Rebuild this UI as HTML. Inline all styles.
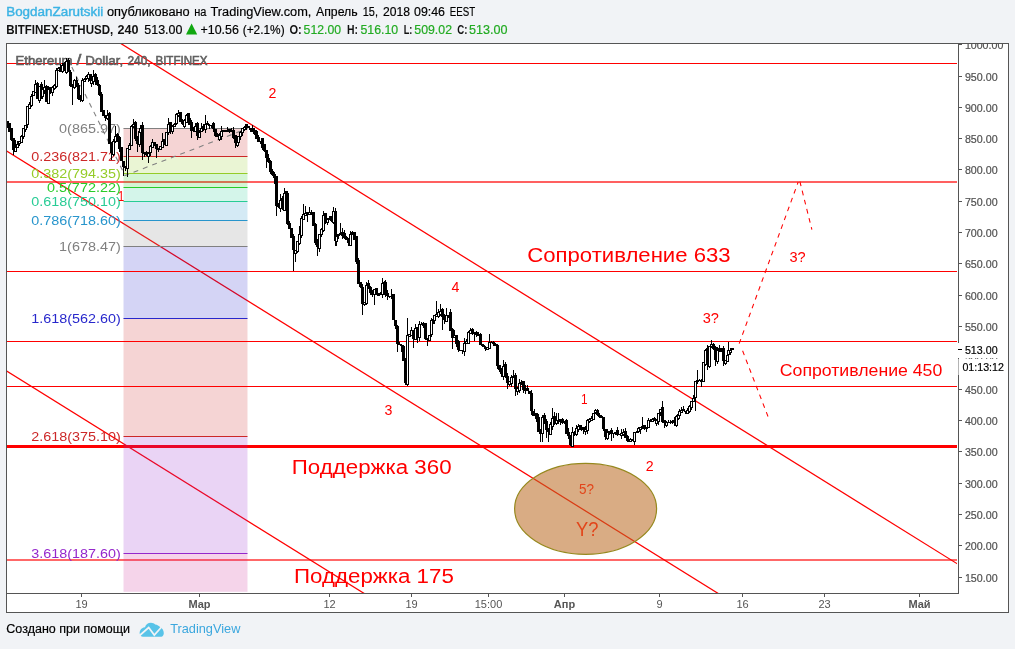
<!DOCTYPE html>
<html><head><meta charset="utf-8"><title>ETHUSD chart</title>
<style>
html,body{margin:0;padding:0;background:#f1f3f6;}
body{width:1015px;height:649px;overflow:hidden;font-family:"Liberation Sans",sans-serif;}
svg{display:block;position:absolute;left:0;top:0;will-change:transform}
text{font-family:"Liberation Sans",sans-serif;}
</style></head><body>
<svg width="1015" height="649" viewBox="0 0 1015 649">
<defs><clipPath id="plot"><rect x="7" y="44" width="950" height="549"/></clipPath><clipPath id="axis"><rect x="959" y="44" width="49" height="549"/></clipPath><clipPath id="sliver"><rect x="959" y="358" width="49" height="1.3"/></clipPath></defs>
<rect x="0" y="0" width="1015" height="649" fill="#f1f3f6"/>
<text x="6.2" y="15.5" font-size="12.5" fill="#3bb3e4" textLength="97" lengthAdjust="spacingAndGlyphs" stroke="#3bb3e4" stroke-width="0.4">BogdanZarutskii</text>
<text x="106.9" y="15.5" font-size="12.5" fill="#000" textLength="82.8" lengthAdjust="spacingAndGlyphs" stroke="#000" stroke-width="0.18">опубликовано</text>
<text x="194.2" y="15.5" font-size="12.5" fill="#000" textLength="12.2" lengthAdjust="spacingAndGlyphs" stroke="#000" stroke-width="0.18">на</text>
<text x="210.5" y="15.5" font-size="12.5" fill="#000" textLength="100.9" lengthAdjust="spacingAndGlyphs" stroke="#000" stroke-width="0.18">TradingView.com,</text>
<text x="316" y="15.5" font-size="12.5" fill="#000" textLength="41.6" lengthAdjust="spacingAndGlyphs" stroke="#000" stroke-width="0.18">Апрель</text>
<text x="362.8" y="15.5" font-size="12.5" fill="#000" textLength="15.2" lengthAdjust="spacingAndGlyphs" stroke="#000" stroke-width="0.18">15,</text>
<text x="383" y="15.5" font-size="12.5" fill="#000" textLength="27" lengthAdjust="spacingAndGlyphs" stroke="#000" stroke-width="0.18">2018</text>
<text x="414" y="15.5" font-size="12.5" fill="#000" textLength="31" lengthAdjust="spacingAndGlyphs" stroke="#000" stroke-width="0.18">09:46</text>
<text x="449.8" y="15.5" font-size="12.5" fill="#000" textLength="25.4" lengthAdjust="spacingAndGlyphs" stroke="#000" stroke-width="0.18">EEST</text>
<text x="6.2" y="34" font-size="12.5" fill="#111" font-weight="bold" textLength="107" lengthAdjust="spacingAndGlyphs">BITFINEX:ETHUSD,</text>
<text x="117.5" y="34" font-size="12.5" fill="#111" font-weight="bold" textLength="21" lengthAdjust="spacingAndGlyphs">240</text>
<text x="144.3" y="34" font-size="12.5" fill="#000" textLength="38.1" lengthAdjust="spacingAndGlyphs" stroke="#000" stroke-width="0.18">513.00</text>
<path d="M186 34.5 L197.2 34.5 L191.6 23.6 Z" fill="#11a811"/>
<text x="200.5" y="34" font-size="12.5" fill="#000" textLength="38.4" lengthAdjust="spacingAndGlyphs" stroke="#000" stroke-width="0.18">+10.56</text>
<text x="242.7" y="34" font-size="12.5" fill="#000" textLength="41.9" lengthAdjust="spacingAndGlyphs" stroke="#000" stroke-width="0.18">(+2.1%)</text>
<text x="289.5" y="34" font-size="12.5" fill="#111" font-weight="bold" textLength="12.3" lengthAdjust="spacingAndGlyphs">O:</text>
<text x="303.6" y="34" font-size="12.5" fill="#22ab22" textLength="37.4" lengthAdjust="spacingAndGlyphs" stroke="#22ab22" stroke-width="0.18">512.00</text>
<text x="347" y="34" font-size="12.5" fill="#111" font-weight="bold" textLength="11" lengthAdjust="spacingAndGlyphs">H:</text>
<text x="360.4" y="34" font-size="12.5" fill="#22ab22" textLength="37.8" lengthAdjust="spacingAndGlyphs" stroke="#22ab22" stroke-width="0.18">516.10</text>
<text x="403.7" y="34" font-size="12.5" fill="#111" font-weight="bold" textLength="8.7" lengthAdjust="spacingAndGlyphs">L:</text>
<text x="414.3" y="34" font-size="12.5" fill="#22ab22" textLength="37.7" lengthAdjust="spacingAndGlyphs" stroke="#22ab22" stroke-width="0.18">509.02</text>
<text x="457.3" y="34" font-size="12.5" fill="#111" font-weight="bold" textLength="10.2" lengthAdjust="spacingAndGlyphs">C:</text>
<text x="469" y="34" font-size="12.5" fill="#22ab22" textLength="38.5" lengthAdjust="spacingAndGlyphs" stroke="#22ab22" stroke-width="0.18">513.00</text>
<rect x="6" y="43" width="1003" height="570" fill="#555555"/>
<rect x="7" y="44" width="1001" height="568" fill="#fff"/>
<rect x="958" y="44" width="1" height="550" fill="#555555"/>
<rect x="7" y="593" width="952" height="1" fill="#555555"/>
<g clip-path="url(#axis)">
<rect x="959" y="44" width="3" height="1" fill="#555555"/><text x="964.9" y="49" font-size="11" fill="#505050" textLength="38.4" lengthAdjust="spacingAndGlyphs" stroke="#505050" stroke-width="0.2">1000.00</text>
<rect x="959" y="76" width="3" height="1" fill="#555555"/><text x="964.9" y="81" font-size="11" fill="#505050" textLength="32.7" lengthAdjust="spacingAndGlyphs" stroke="#505050" stroke-width="0.2">950.00</text>
<rect x="959" y="107" width="3" height="1" fill="#555555"/><text x="964.9" y="112" font-size="11" fill="#505050" textLength="32.7" lengthAdjust="spacingAndGlyphs" stroke="#505050" stroke-width="0.2">900.00</text>
<rect x="959" y="138" width="3" height="1" fill="#555555"/><text x="964.9" y="143" font-size="11" fill="#505050" textLength="32.7" lengthAdjust="spacingAndGlyphs" stroke="#505050" stroke-width="0.2">850.00</text>
<rect x="959" y="169" width="3" height="1" fill="#555555"/><text x="964.9" y="174" font-size="11" fill="#505050" textLength="32.7" lengthAdjust="spacingAndGlyphs" stroke="#505050" stroke-width="0.2">800.00</text>
<rect x="959" y="201" width="3" height="1" fill="#555555"/><text x="964.9" y="206" font-size="11" fill="#505050" textLength="32.7" lengthAdjust="spacingAndGlyphs" stroke="#505050" stroke-width="0.2">750.00</text>
<rect x="959" y="232" width="3" height="1" fill="#555555"/><text x="964.9" y="237" font-size="11" fill="#505050" textLength="32.7" lengthAdjust="spacingAndGlyphs" stroke="#505050" stroke-width="0.2">700.00</text>
<rect x="959" y="263" width="3" height="1" fill="#555555"/><text x="964.9" y="268" font-size="11" fill="#505050" textLength="32.7" lengthAdjust="spacingAndGlyphs" stroke="#505050" stroke-width="0.2">650.00</text>
<rect x="959" y="295" width="3" height="1" fill="#555555"/><text x="964.9" y="300" font-size="11" fill="#505050" textLength="32.7" lengthAdjust="spacingAndGlyphs" stroke="#505050" stroke-width="0.2">600.00</text>
<rect x="959" y="326" width="3" height="1" fill="#555555"/><text x="964.9" y="331" font-size="11" fill="#505050" textLength="32.7" lengthAdjust="spacingAndGlyphs" stroke="#505050" stroke-width="0.2">550.00</text>
<rect x="959" y="389" width="3" height="1" fill="#555555"/><text x="964.9" y="394" font-size="11" fill="#505050" textLength="32.7" lengthAdjust="spacingAndGlyphs" stroke="#505050" stroke-width="0.2">450.00</text>
<rect x="959" y="420" width="3" height="1" fill="#555555"/><text x="964.9" y="425" font-size="11" fill="#505050" textLength="32.7" lengthAdjust="spacingAndGlyphs" stroke="#505050" stroke-width="0.2">400.00</text>
<rect x="959" y="451" width="3" height="1" fill="#555555"/><text x="964.9" y="456" font-size="11" fill="#505050" textLength="32.7" lengthAdjust="spacingAndGlyphs" stroke="#505050" stroke-width="0.2">350.00</text>
<rect x="959" y="483" width="3" height="1" fill="#555555"/><text x="964.9" y="488" font-size="11" fill="#505050" textLength="32.7" lengthAdjust="spacingAndGlyphs" stroke="#505050" stroke-width="0.2">300.00</text>
<rect x="959" y="514" width="3" height="1" fill="#555555"/><text x="964.9" y="519" font-size="11" fill="#505050" textLength="32.7" lengthAdjust="spacingAndGlyphs" stroke="#505050" stroke-width="0.2">250.00</text>
<rect x="959" y="545" width="3" height="1" fill="#555555"/><text x="964.9" y="550" font-size="11" fill="#505050" textLength="32.7" lengthAdjust="spacingAndGlyphs" stroke="#505050" stroke-width="0.2">200.00</text>
<rect x="959" y="577" width="3" height="1" fill="#555555"/><text x="964.9" y="582" font-size="11" fill="#505050" textLength="32.7" lengthAdjust="spacingAndGlyphs" stroke="#505050" stroke-width="0.2">150.00</text>
</g>
<g clip-path="url(#sliver)"><text x="964.9" y="362" font-size="11" fill="#555" textLength="32.7" lengthAdjust="spacingAndGlyphs">500.00</text>
</g>
<rect x="958" y="343" width="50" height="15" fill="#fff"/>
<rect x="958" y="349" width="4" height="1" fill="#000"/>
<text x="964.9" y="354" font-size="11" fill="#000" textLength="32.7" lengthAdjust="spacingAndGlyphs" stroke="#000" stroke-width="0.18">513.00</text>
<rect x="958" y="359" width="50" height="16" fill="#fff"/>
<rect x="958" y="359" width="1" height="16" fill="#b4b4b4"/>
<text x="962.4" y="371" font-size="11" fill="#000" textLength="41.5" lengthAdjust="spacingAndGlyphs" stroke="#000" stroke-width="0.18">01:13:12</text>
<rect x="81" y="594" width="1" height="3" fill="#555555"/><text x="81.5" y="608" font-size="11" fill="#555" text-anchor="middle">19</text>
<rect x="199" y="594" width="1" height="3" fill="#555555"/><text x="199.5" y="608" font-size="11" fill="#555" font-weight="bold" text-anchor="middle">Мар</text>
<rect x="329" y="594" width="1" height="3" fill="#555555"/><text x="329.5" y="608" font-size="11" fill="#555" text-anchor="middle">12</text>
<rect x="411" y="594" width="1" height="3" fill="#555555"/><text x="411.5" y="608" font-size="11" fill="#555" text-anchor="middle">19</text>
<rect x="488" y="594" width="1" height="3" fill="#555555"/><text x="488.5" y="608" font-size="11" fill="#555" text-anchor="middle">15:00</text>
<rect x="564" y="594" width="1" height="3" fill="#555555"/><text x="564.5" y="608" font-size="11" fill="#555" font-weight="bold" text-anchor="middle">Апр</text>
<rect x="659" y="594" width="1" height="3" fill="#555555"/><text x="659.5" y="608" font-size="11" fill="#555" text-anchor="middle">9</text>
<rect x="742" y="594" width="1" height="3" fill="#555555"/><text x="742.5" y="608" font-size="11" fill="#555" text-anchor="middle">16</text>
<rect x="824" y="594" width="1" height="3" fill="#555555"/><text x="824.5" y="608" font-size="11" fill="#555" text-anchor="middle">23</text>
<rect x="919" y="594" width="1" height="3" fill="#555555"/><text x="919.5" y="608" font-size="11" fill="#555" font-weight="bold" text-anchor="middle">Май</text>
<g clip-path="url(#plot)">
<rect x="7" y="181" width="950" height="2" fill="#ff6060"/>
<rect x="7" y="559" width="950" height="2" fill="#ff6060" opacity="0.95"/>
<line x1="120.0" y1="43.0" x2="960.0" y2="565.5" stroke="#ff0000" stroke-width="1.25"/>
<line x1="5.0" y1="149.9" x2="720.0" y2="594.6" stroke="#ff0000" stroke-width="1.25"/>
<line x1="5.0" y1="370.1" x2="366.0" y2="594.6" stroke="#ff0000" stroke-width="1.25"/>
<rect x="7" y="445" width="950" height="3" fill="#ff0000"/>
<rect x="123.5" y="128.0" width="124.0" height="28.0" fill="#cc2828" fill-opacity="0.2"/>
<rect x="123.5" y="156.0" width="124.0" height="17.0" fill="#95cc28" fill-opacity="0.2"/>
<rect x="123.5" y="173.0" width="124.0" height="14.0" fill="#28cc28" fill-opacity="0.2"/>
<rect x="123.5" y="187.0" width="124.0" height="14.0" fill="#28cc95" fill-opacity="0.2"/>
<rect x="123.5" y="201.0" width="124.0" height="19.0" fill="#2895cc" fill-opacity="0.2"/>
<rect x="123.5" y="220.0" width="124.0" height="26.0" fill="#808080" fill-opacity="0.2"/>
<rect x="123.5" y="246.0" width="124.0" height="72.0" fill="#2828cc" fill-opacity="0.2"/>
<rect x="123.5" y="318.0" width="124.0" height="118.0" fill="#cc2828" fill-opacity="0.2"/>
<rect x="123.5" y="436.0" width="124.0" height="117.0" fill="#9528cc" fill-opacity="0.2"/>
<rect x="123.5" y="553.0" width="124.0" height="38.8" fill="#cc2895" fill-opacity="0.2"/>
<rect x="123.5" y="128" width="124.0" height="1" fill="#808080"/><text x="120.8" y="132.7" font-size="12" fill="#808080" textLength="61.7" lengthAdjust="spacingAndGlyphs" text-anchor="end">0(865.97)</text>

<rect x="123.5" y="156" width="124.0" height="1" fill="#cc2828"/><text x="120.8" y="160.7" font-size="12" fill="#cc2828" textLength="89.5" lengthAdjust="spacingAndGlyphs" text-anchor="end">0.236(821.72)</text>

<rect x="123.5" y="173" width="124.0" height="1" fill="#95cc28"/><text x="120.8" y="177.7" font-size="12" fill="#95cc28" textLength="89.5" lengthAdjust="spacingAndGlyphs" text-anchor="end">0.382(794.35)</text>

<rect x="123.5" y="187" width="124.0" height="1" fill="#28cc28"/><text x="120.8" y="191.7" font-size="12" fill="#28cc28" textLength="73.8" lengthAdjust="spacingAndGlyphs" text-anchor="end">0.5(772.22)</text>

<rect x="123.5" y="201" width="124.0" height="1" fill="#28cc95"/><text x="120.8" y="205.7" font-size="12" fill="#28cc95" textLength="89.5" lengthAdjust="spacingAndGlyphs" text-anchor="end">0.618(750.10)</text>

<rect x="123.5" y="220" width="124.0" height="1" fill="#2895cc"/><text x="120.8" y="224.7" font-size="12" fill="#2895cc" textLength="89.5" lengthAdjust="spacingAndGlyphs" text-anchor="end">0.786(718.60)</text>

<rect x="123.5" y="246" width="124.0" height="1" fill="#808080"/><text x="120.8" y="250.7" font-size="12" fill="#808080" textLength="61.7" lengthAdjust="spacingAndGlyphs" text-anchor="end">1(678.47)</text>

<rect x="123.5" y="318" width="124.0" height="1" fill="#2828cc"/><text x="120.8" y="322.7" font-size="12" fill="#2828cc" textLength="89.5" lengthAdjust="spacingAndGlyphs" text-anchor="end">1.618(562.60)</text>

<rect x="123.5" y="436" width="124.0" height="1" fill="#cc2828"/><text x="120.8" y="440.7" font-size="12" fill="#cc2828" textLength="89.5" lengthAdjust="spacingAndGlyphs" text-anchor="end">2.618(375.10)</text>

<rect x="123.5" y="553" width="124.0" height="1" fill="#9528cc"/><text x="120.8" y="557.7" font-size="12" fill="#9528cc" textLength="89.5" lengthAdjust="spacingAndGlyphs" text-anchor="end">3.618(187.60)</text>

<text x="118.0" y="200.8" font-size="14" fill="#ff0000" textLength="6.2" lengthAdjust="spacingAndGlyphs">1</text>
<rect x="7" y="63" width="950" height="1" fill="#ff0000"/><rect x="7" y="271" width="950" height="1" fill="#ff0000"/><rect x="7" y="341" width="950" height="1" fill="#ff0000"/><rect x="7" y="386" width="950" height="1" fill="#ff0000"/><text x="15.5" y="64.8" font-size="13" fill="#606060" textLength="57" lengthAdjust="spacingAndGlyphs" stroke="#606060" stroke-width="0.6">Ethereum</text>
<text x="76.6" y="64.8" font-size="14" fill="#606060" textLength="4.8" lengthAdjust="spacingAndGlyphs" stroke="#606060" stroke-width="0.6">/</text>
<text x="85.3" y="64.8" font-size="13" fill="#606060" textLength="37.8" lengthAdjust="spacingAndGlyphs" stroke="#606060" stroke-width="0.6">Dollar,</text>
<text x="127.4" y="64.8" font-size="13" fill="#606060" textLength="23.2" lengthAdjust="spacingAndGlyphs" stroke="#606060" stroke-width="0.6">240,</text>
<text x="155.4" y="64.8" font-size="13" fill="#606060" textLength="52.2" lengthAdjust="spacingAndGlyphs" stroke="#606060" stroke-width="0.6">BITFINEX</text>
<path d="M739.2 343.6 L798.2 182" fill="none" stroke="#ff0000" stroke-width="1.05" stroke-dasharray="4.7 4.7"/>
<path d="M799.9 181.6 L811.9 229.7" fill="none" stroke="#ff0000" stroke-width="1.05" stroke-dasharray="4.7 4.7"/>
<path d="M742.6 350.8 L768.8 418.6" fill="none" stroke="#ff0000" stroke-width="1.05" stroke-dasharray="4.7 4.7"/>
<path d="M67.4 58 L125 175.5 L247.5 128.5" fill="none" stroke="#808080" stroke-width="1.1" stroke-dasharray="5 5"/>
<ellipse cx="585.6" cy="508.85" rx="71.0" ry="45.45" fill="#bb6b24" fill-opacity="0.56" stroke="#96881e" stroke-width="1.2"/>
<text x="579" y="493.8" font-size="14" fill="#e2451a" textLength="15" lengthAdjust="spacingAndGlyphs">5?</text>
<text x="576" y="535.6" font-size="20.5" fill="#e2451a" textLength="22.4" lengthAdjust="spacingAndGlyphs">Y?</text>
<text x="268.6" y="98.1" font-size="14" fill="#ff0000" textLength="7.9" lengthAdjust="spacingAndGlyphs">2</text>
<text x="384.5" y="415.1" font-size="14" fill="#ff0000" textLength="7.9" lengthAdjust="spacingAndGlyphs">3</text>
<text x="451.6" y="292.2" font-size="14" fill="#ff0000" textLength="7.9" lengthAdjust="spacingAndGlyphs">4</text>
<text x="581.0" y="404.2" font-size="14" fill="#ff0000" textLength="6.6" lengthAdjust="spacingAndGlyphs">1</text>
<text x="645.8" y="471.2" font-size="14" fill="#ff0000" textLength="7.9" lengthAdjust="spacingAndGlyphs">2</text>
<text x="702.7" y="323.4" font-size="14" fill="#ff0000" textLength="16.2" lengthAdjust="spacingAndGlyphs">3?</text>
<text x="789.5" y="262.2" font-size="14" fill="#ff0000" textLength="16.2" lengthAdjust="spacingAndGlyphs">3?</text>
<text x="527.3" y="261.8" font-size="20" fill="#ff0000" textLength="203.3" lengthAdjust="spacingAndGlyphs">Сопротивление 633</text>
<text x="291.8" y="473.5" font-size="20" fill="#ff0000" textLength="159.8" lengthAdjust="spacingAndGlyphs">Поддержка 360</text>
<text x="294.0" y="582.5" font-size="20" fill="#ff0000" textLength="159.8" lengthAdjust="spacingAndGlyphs">Поддержка 175</text>
<text x="779.8" y="376.2" font-size="16.5" fill="#ff0000" textLength="162.5" lengthAdjust="spacingAndGlyphs">Сопротивление 450</text>
<g shape-rendering="crispEdges"><path fill="#000" d="M7 121h1V128h-1zM6 121h3V127h-3z"/><path fill="#000" d="M9 123h1V132h-1zM8 123h3V132h-3z"/><path fill="#000" d="M11 128h1V141h-1zM10 128h3V140h-3z"/><path fill="#000" d="M13 138h1V155h-1zM12 138h3V150h-3z"/><path fill="#000" d="M15 140h1V152h-1zM14 147h3V152h-3z"/><path fill="#fff" d="M15 148h1V151h-1z"/><path fill="#000" d="M17 141h1V148h-1zM16 144h3V148h-3z"/><path fill="#fff" d="M17 145h1V147h-1z"/><path fill="#000" d="M19 141h1V146h-1zM18 141h3V144h-3z"/><path fill="#fff" d="M19 142h1V143h-1z"/><path fill="#000" d="M21 135h1V143h-1zM20 136h3V143h-3z"/><path fill="#fff" d="M21 137h1V142h-1z"/><path fill="#000" d="M23 128h1V139h-1zM22 128h3V137h-3z"/><path fill="#fff" d="M23 129h1V136h-1z"/><path fill="#000" d="M25 125h1V132h-1zM24 125h3V130h-3z"/><path fill="#fff" d="M25 126h1V129h-1z"/><path fill="#000" d="M27 106h1V128h-1zM26 106h3V125h-3z"/><path fill="#fff" d="M27 107h1V124h-1z"/><path fill="#000" d="M29 102h1V109h-1zM28 104h3V109h-3z"/><path fill="#fff" d="M29 105h1V108h-1z"/><path fill="#000" d="M31 94h1V107h-1zM30 96h3V106h-3z"/><path fill="#fff" d="M31 97h1V105h-1z"/><path fill="#000" d="M33 91h1V96h-1zM32 91h3V96h-3z"/><path fill="#fff" d="M33 92h1V95h-1z"/><path fill="#000" d="M35 80h1V93h-1zM34 84h3V93h-3z"/><path fill="#fff" d="M35 85h1V92h-1z"/><path fill="#000" d="M37 82h1V99h-1zM36 83h3V99h-3z"/><path fill="#000" d="M39 86h1V103h-1zM38 86h3V101h-3z"/><path fill="#fff" d="M39 87h1V100h-1z"/><path fill="#000" d="M41 82h1V99h-1zM40 84h3V96h-3z"/><path fill="#000" d="M42 89h1V99h-1zM41 89h3V97h-3z"/><path fill="#fff" d="M42 90h1V96h-1z"/><path fill="#000" d="M44 80h1V94h-1zM43 87h3V91h-3z"/><path fill="#fff" d="M44 88h1V90h-1z"/><path fill="#000" d="M46 85h1V102h-1zM45 86h3V102h-3z"/><path fill="#000" d="M48 86h1V104h-1zM47 89h3V104h-3z"/><path fill="#fff" d="M48 90h1V103h-1z"/><path fill="#000" d="M50 87h1V94h-1zM49 87h3V92h-3z"/><path fill="#000" d="M52 86h1V96h-1zM51 87h3V93h-3z"/><path fill="#fff" d="M52 88h1V92h-1z"/><path fill="#000" d="M54 84h1V90h-1zM53 85h3V89h-3z"/><path fill="#fff" d="M54 86h1V88h-1z"/><path fill="#000" d="M56 68h1V88h-1zM55 70h3V87h-3z"/><path fill="#fff" d="M56 71h1V86h-1z"/><path fill="#000" d="M58 67h1V71h-1zM57 68h3V71h-3z"/><path fill="#fff" d="M58 69h1V70h-1z"/><path fill="#000" d="M60 64h1V72h-1zM59 67h3V72h-3z"/><path fill="#000" d="M62 63h1V73h-1zM61 65h3V72h-3z"/><path fill="#fff" d="M62 66h1V71h-1z"/><path fill="#000" d="M64 62h1V71h-1zM63 63h3V70h-3z"/><path fill="#000" d="M66 58h1V74h-1zM65 61h3V73h-3z"/><path fill="#fff" d="M66 62h1V72h-1z"/><path fill="#000" d="M68 58h1V72h-1zM67 60h3V72h-3z"/><path fill="#000" d="M70 70h1V87h-1zM69 72h3V86h-3z"/><path fill="#000" d="M72 84h1V105h-1zM71 85h3V87h-3z"/><path fill="#000" d="M74 79h1V89h-1zM73 80h3V88h-3z"/><path fill="#fff" d="M74 81h1V87h-1z"/><path fill="#000" d="M76 77h1V87h-1zM75 80h3V87h-3z"/><path fill="#000" d="M78 83h1V100h-1zM77 85h3V99h-3z"/><path fill="#000" d="M80 95h1V102h-1zM79 98h3V100h-3z"/><path fill="#000" d="M82 78h1V102h-1zM81 80h3V101h-3z"/><path fill="#fff" d="M82 81h1V100h-1z"/><path fill="#000" d="M84 78h1V82h-1zM83 79h3V82h-3z"/><path fill="#fff" d="M84 80h1V81h-1z"/><path fill="#000" d="M86 75h1V80h-1zM85 76h3V79h-3z"/><path fill="#fff" d="M86 77h1V78h-1z"/><path fill="#000" d="M88 72h1V82h-1zM87 74h3V79h-3z"/><path fill="#fff" d="M88 75h1V78h-1z"/><path fill="#000" d="M90 74h1V84h-1zM89 74h3V81h-3z"/><path fill="#000" d="M91 79h1V87h-1zM90 80h3V84h-3z"/><path fill="#fff" d="M91 81h1V83h-1z"/><path fill="#000" d="M93 70h1V85h-1zM92 76h3V82h-3z"/><path fill="#fff" d="M93 77h1V81h-1z"/><path fill="#000" d="M95 73h1V85h-1zM94 74h3V82h-3z"/><path fill="#000" d="M97 77h1V86h-1zM96 80h3V85h-3z"/><path fill="#000" d="M99 84h1V96h-1zM98 85h3V95h-3z"/><path fill="#000" d="M101 92h1V112h-1zM100 94h3V112h-3z"/><path fill="#000" d="M103 110h1V116h-1zM102 110h3V116h-3z"/><path fill="#000" d="M105 115h1V121h-1zM104 115h3V118h-3z"/><path fill="#000" d="M107 110h1V120h-1zM106 115h3V119h-3z"/><path fill="#fff" d="M107 116h1V118h-1z"/><path fill="#000" d="M109 112h1V144h-1zM108 113h3V144h-3z"/><path fill="#000" d="M111 142h1V160h-1zM110 143h3V153h-3z"/><path fill="#000" d="M113 139h1V156h-1zM112 141h3V155h-3z"/><path fill="#fff" d="M113 142h1V154h-1z"/><path fill="#000" d="M115 126h1V143h-1zM114 136h3V142h-3z"/><path fill="#fff" d="M115 137h1V141h-1z"/><path fill="#000" d="M117 133h1V142h-1zM116 134h3V139h-3z"/><path fill="#000" d="M119 136h1V152h-1zM118 137h3V149h-3z"/><path fill="#000" d="M121 147h1V161h-1zM120 147h3V161h-3z"/><path fill="#000" d="M123 161h1V176h-1zM122 161h3V167h-3z"/><path fill="#000" d="M125 166h1V171h-1zM124 166h3V168h-3z"/><path fill="#000" d="M127 148h1V177h-1zM126 148h3V169h-3z"/><path fill="#fff" d="M127 149h1V168h-1z"/><path fill="#000" d="M129 143h1V150h-1zM128 145h3V150h-3z"/><path fill="#fff" d="M129 146h1V149h-1z"/><path fill="#000" d="M131 125h1V146h-1zM130 126h3V146h-3z"/><path fill="#fff" d="M131 127h1V145h-1z"/><path fill="#000" d="M133 119h1V128h-1zM132 124h3V127h-3z"/><path fill="#fff" d="M133 125h1V126h-1z"/><path fill="#000" d="M135 121h1V141h-1zM134 122h3V139h-3z"/><path fill="#000" d="M137 136h1V152h-1zM136 137h3V144h-3z"/><path fill="#000" d="M139 128h1V147h-1zM138 131h3V145h-3z"/><path fill="#fff" d="M139 132h1V144h-1z"/><path fill="#000" d="M140 125h1V136h-1zM139 128h3V133h-3z"/><path fill="#fff" d="M140 129h1V132h-1z"/><path fill="#000" d="M142 122h1V160h-1zM141 125h3V153h-3z"/><path fill="#000" d="M144 152h1V157h-1zM143 153h3V154h-3z"/><path fill="#000" d="M146 151h1V156h-1zM145 152h3V155h-3z"/><path fill="#000" d="M148 152h1V163h-1zM147 153h3V157h-3z"/><path fill="#fff" d="M148 154h1V156h-1z"/><path fill="#000" d="M150 145h1V156h-1zM149 146h3V153h-3z"/><path fill="#fff" d="M150 147h1V152h-1z"/><path fill="#000" d="M152 139h1V148h-1zM151 142h3V148h-3z"/><path fill="#fff" d="M152 143h1V147h-1z"/><path fill="#000" d="M154 142h1V146h-1zM153 142h3V146h-3z"/><path fill="#000" d="M156 144h1V158h-1zM155 144h3V149h-3z"/><path fill="#000" d="M158 148h1V152h-1zM157 149h3V150h-3z"/><path fill="#000" d="M160 146h1V150h-1zM159 146h3V150h-3z"/><path fill="#fff" d="M160 147h1V149h-1z"/><path fill="#000" d="M162 133h1V148h-1zM161 141h3V148h-3z"/><path fill="#fff" d="M162 142h1V147h-1z"/><path fill="#000" d="M164 139h1V145h-1zM163 139h3V144h-3z"/><path fill="#000" d="M166 132h1V146h-1zM165 132h3V146h-3z"/><path fill="#fff" d="M166 133h1V145h-1z"/><path fill="#000" d="M168 118h1V135h-1zM167 124h3V133h-3z"/><path fill="#fff" d="M168 125h1V132h-1z"/><path fill="#000" d="M170 122h1V134h-1zM169 122h3V131h-3z"/><path fill="#000" d="M172 125h1V134h-1zM171 126h3V132h-3z"/><path fill="#fff" d="M172 127h1V131h-1z"/><path fill="#000" d="M174 123h1V127h-1zM173 124h3V127h-3z"/><path fill="#fff" d="M174 125h1V126h-1z"/><path fill="#000" d="M176 113h1V125h-1zM175 114h3V124h-3z"/><path fill="#fff" d="M176 115h1V123h-1z"/><path fill="#000" d="M178 110h1V117h-1zM177 113h3V116h-3z"/><path fill="#fff" d="M178 114h1V115h-1z"/><path fill="#000" d="M180 112h1V122h-1zM179 112h3V122h-3z"/><path fill="#000" d="M182 119h1V125h-1zM181 122h3V124h-3z"/><path fill="#000" d="M184 119h1V128h-1zM183 120h3V127h-3z"/><path fill="#fff" d="M184 121h1V126h-1z"/><path fill="#000" d="M186 114h1V123h-1zM185 115h3V123h-3z"/><path fill="#fff" d="M186 116h1V122h-1z"/><path fill="#000" d="M188 113h1V120h-1zM187 113h3V120h-3z"/><path fill="#000" d="M189 117h1V125h-1zM188 118h3V125h-3z"/><path fill="#000" d="M191 120h1V138h-1zM190 122h3V131h-3z"/><path fill="#000" d="M193 127h1V132h-1zM192 129h3V131h-3z"/><path fill="#000" d="M195 123h1V132h-1zM194 126h3V132h-3z"/><path fill="#fff" d="M195 127h1V131h-1z"/><path fill="#000" d="M197 122h1V140h-1zM196 123h3V136h-3z"/><path fill="#000" d="M199 130h1V138h-1zM198 132h3V138h-3z"/><path fill="#fff" d="M199 133h1V137h-1z"/><path fill="#000" d="M201 123h1V132h-1zM200 128h3V132h-3z"/><path fill="#fff" d="M201 129h1V131h-1z"/><path fill="#000" d="M203 124h1V131h-1zM202 126h3V129h-3z"/><path fill="#000" d="M205 115h1V133h-1zM204 124h3V130h-3z"/><path fill="#fff" d="M205 125h1V129h-1z"/><path fill="#000" d="M207 121h1V125h-1zM206 123h3V125h-3z"/><path fill="#000" d="M209 124h1V129h-1zM208 125h3V126h-3z"/><path fill="#000" d="M211 125h1V128h-1zM210 125h3V126h-3z"/><path fill="#000" d="M213 122h1V132h-1zM212 123h3V129h-3z"/><path fill="#000" d="M215 129h1V137h-1zM214 129h3V136h-3z"/><path fill="#000" d="M217 133h1V137h-1zM216 134h3V137h-3z"/><path fill="#000" d="M219 133h1V141h-1zM218 135h3V140h-3z"/><path fill="#fff" d="M219 136h1V139h-1z"/><path fill="#000" d="M221 126h1V140h-1zM220 131h3V137h-3z"/><path fill="#fff" d="M221 132h1V136h-1z"/><path fill="#000" d="M223 130h1V132h-1zM222 130h3V132h-3z"/><path fill="#000" d="M225 130h1V132h-1zM224 130h3V132h-3z"/><path fill="#000" d="M227 127h1V132h-1zM226 130h3V132h-3z"/><path fill="#000" d="M229 129h1V133h-1zM228 129h3V132h-3z"/><path fill="#000" d="M231 128h1V132h-1zM230 130h3V132h-3z"/><path fill="#000" d="M233 127h1V139h-1zM232 130h3V138h-3z"/><path fill="#000" d="M235 135h1V148h-1zM234 135h3V143h-3z"/><path fill="#000" d="M237 140h1V147h-1zM236 140h3V146h-3z"/><path fill="#fff" d="M237 141h1V145h-1z"/><path fill="#000" d="M238 136h1V144h-1zM237 136h3V143h-3z"/><path fill="#fff" d="M238 137h1V142h-1z"/><path fill="#000" d="M240 131h1V140h-1zM239 132h3V137h-3z"/><path fill="#fff" d="M240 133h1V136h-1z"/><path fill="#000" d="M242 128h1V136h-1zM241 128h3V133h-3z"/><path fill="#fff" d="M242 129h1V132h-1z"/><path fill="#000" d="M244 126h1V131h-1zM243 127h3V130h-3z"/><path fill="#fff" d="M244 128h1V129h-1z"/><path fill="#000" d="M246 124h1V130h-1zM245 124h3V127h-3z"/><path fill="#000" d="M248 126h1V128h-1zM247 126h3V128h-3z"/><path fill="#000" d="M250 128h1V132h-1zM249 128h3V130h-3z"/><path fill="#000" d="M252 125h1V132h-1zM251 128h3V132h-3z"/><path fill="#000" d="M254 128h1V135h-1zM253 130h3V134h-3z"/><path fill="#000" d="M256 130h1V139h-1zM255 131h3V139h-3z"/><path fill="#000" d="M258 135h1V142h-1zM257 137h3V142h-3z"/><path fill="#000" d="M260 141h1V144h-1zM259 141h3V142h-3z"/><path fill="#000" d="M262 138h1V150h-1zM261 138h3V148h-3z"/><path fill="#000" d="M264 144h1V152h-1zM263 144h3V151h-3z"/><path fill="#000" d="M266 150h1V168h-1zM265 150h3V158h-3z"/><path fill="#000" d="M268 154h1V163h-1zM267 158h3V162h-3z"/><path fill="#000" d="M270 160h1V174h-1zM269 161h3V172h-3z"/><path fill="#000" d="M272 169h1V176h-1zM271 171h3V175h-3z"/><path fill="#000" d="M274 172h1V184h-1zM273 174h3V178h-3z"/><path fill="#000" d="M276 176h1V216h-1zM275 176h3V206h-3z"/><path fill="#000" d="M278 203h1V208h-1zM277 206h3V207h-3z"/><path fill="#000" d="M280 194h1V212h-1zM279 200h3V209h-3z"/><path fill="#fff" d="M280 201h1V208h-1z"/><path fill="#000" d="M282 196h1V210h-1zM281 198h3V209h-3z"/><path fill="#000" d="M284 188h1V211h-1zM283 193h3V211h-3z"/><path fill="#fff" d="M284 194h1V210h-1z"/><path fill="#000" d="M286 191h1V197h-1zM285 191h3V195h-3z"/><path fill="#000" d="M287 193h1V225h-1zM286 193h3V224h-3z"/><path fill="#000" d="M289 221h1V229h-1zM288 223h3V229h-3z"/><path fill="#000" d="M291 228h1V238h-1zM290 228h3V238h-3z"/><path fill="#000" d="M293 234h1V271h-1zM292 236h3V250h-3z"/><path fill="#000" d="M295 250h1V262h-1zM294 250h3V254h-3z"/><path fill="#fff" d="M295 251h1V253h-1z"/><path fill="#000" d="M297 241h1V253h-1zM296 241h3V252h-3z"/><path fill="#fff" d="M297 242h1V251h-1z"/><path fill="#000" d="M299 226h1V245h-1zM298 234h3V244h-3z"/><path fill="#fff" d="M299 235h1V243h-1z"/><path fill="#000" d="M301 216h1V238h-1zM300 218h3V236h-3z"/><path fill="#fff" d="M301 219h1V235h-1z"/><path fill="#000" d="M303 204h1V220h-1zM302 214h3V220h-3z"/><path fill="#fff" d="M303 215h1V219h-1z"/><path fill="#000" d="M305 206h1V216h-1zM304 213h3V216h-3z"/><path fill="#fff" d="M305 214h1V215h-1z"/><path fill="#000" d="M307 212h1V222h-1zM306 212h3V214h-3z"/><path fill="#000" d="M309 207h1V215h-1zM308 212h3V215h-3z"/><path fill="#fff" d="M309 213h1V214h-1z"/><path fill="#000" d="M311 210h1V215h-1zM310 212h3V214h-3z"/><path fill="#000" d="M313 212h1V226h-1zM312 212h3V226h-3z"/><path fill="#000" d="M315 223h1V245h-1zM314 224h3V243h-3z"/><path fill="#000" d="M317 239h1V256h-1zM316 241h3V247h-3z"/><path fill="#000" d="M319 234h1V252h-1zM318 234h3V249h-3z"/><path fill="#fff" d="M319 235h1V248h-1z"/><path fill="#000" d="M321 228h1V237h-1zM320 229h3V235h-3z"/><path fill="#fff" d="M321 230h1V234h-1z"/><path fill="#000" d="M323 211h1V232h-1zM322 215h3V231h-3z"/><path fill="#fff" d="M323 216h1V230h-1z"/><path fill="#000" d="M325 213h1V224h-1zM324 213h3V221h-3z"/><path fill="#000" d="M327 218h1V225h-1zM326 219h3V223h-3z"/><path fill="#fff" d="M327 220h1V222h-1z"/><path fill="#000" d="M329 216h1V220h-1zM328 218h3V220h-3z"/><path fill="#000" d="M331 216h1V222h-1zM330 216h3V221h-3z"/><path fill="#000" d="M333 207h1V224h-1zM332 211h3V223h-3z"/><path fill="#fff" d="M333 212h1V222h-1z"/><path fill="#000" d="M335 208h1V246h-1zM334 211h3V241h-3z"/><path fill="#000" d="M336 235h1V246h-1zM335 236h3V242h-3z"/><path fill="#fff" d="M336 237h1V241h-1z"/><path fill="#000" d="M338 234h1V239h-1zM337 234h3V236h-3z"/><path fill="#000" d="M340 223h1V235h-1zM339 233h3V235h-3z"/><path fill="#000" d="M342 228h1V239h-1zM341 232h3V236h-3z"/><path fill="#000" d="M344 230h1V239h-1zM343 233h3V238h-3z"/><path fill="#000" d="M346 236h1V240h-1zM345 237h3V240h-3z"/><path fill="#000" d="M348 238h1V246h-1zM347 238h3V243h-3z"/><path fill="#000" d="M350 231h1V246h-1zM349 234h3V246h-3z"/><path fill="#fff" d="M350 235h1V245h-1z"/><path fill="#000" d="M352 231h1V235h-1zM351 232h3V235h-3z"/><path fill="#000" d="M354 232h1V240h-1zM353 232h3V240h-3z"/><path fill="#000" d="M356 236h1V264h-1zM355 236h3V262h-3z"/><path fill="#000" d="M358 258h1V284h-1zM357 260h3V284h-3z"/><path fill="#000" d="M360 282h1V288h-1zM359 282h3V287h-3z"/><path fill="#000" d="M362 284h1V315h-1zM361 287h3V304h-3z"/><path fill="#000" d="M364 302h1V306h-1zM363 302h3V305h-3z"/><path fill="#fff" d="M364 303h1V304h-1z"/><path fill="#000" d="M366 282h1V305h-1zM365 285h3V304h-3z"/><path fill="#fff" d="M366 286h1V303h-1z"/><path fill="#000" d="M368 280h1V289h-1zM367 283h3V289h-3z"/><path fill="#000" d="M370 286h1V295h-1zM369 287h3V293h-3z"/><path fill="#000" d="M372 290h1V297h-1zM371 291h3V295h-3z"/><path fill="#000" d="M374 289h1V305h-1zM373 289h3V295h-3z"/><path fill="#fff" d="M374 290h1V294h-1z"/><path fill="#000" d="M376 288h1V295h-1zM375 288h3V295h-3z"/><path fill="#000" d="M378 293h1V296h-1zM377 294h3V296h-3z"/><path fill="#000" d="M380 292h1V295h-1zM379 293h3V295h-3z"/><path fill="#000" d="M382 278h1V298h-1zM381 283h3V295h-3z"/><path fill="#fff" d="M382 284h1V294h-1z"/><path fill="#000" d="M384 281h1V284h-1zM383 282h3V284h-3z"/><path fill="#000" d="M385 280h1V297h-1zM384 282h3V295h-3z"/><path fill="#000" d="M387 290h1V300h-1zM386 293h3V296h-3z"/><path fill="#000" d="M389 296h1V298h-1zM388 296h3V297h-3z"/><path fill="#000" d="M391 289h1V299h-1zM390 296h3V297h-3z"/><path fill="#000" d="M393 294h1V320h-1zM392 294h3V320h-3z"/><path fill="#000" d="M395 320h1V329h-1zM394 320h3V326h-3z"/><path fill="#000" d="M397 325h1V352h-1zM396 326h3V344h-3z"/><path fill="#000" d="M399 342h1V345h-1zM398 344h3V345h-3z"/><path fill="#000" d="M401 344h1V352h-1zM400 345h3V346h-3z"/><path fill="#000" d="M403 345h1V361h-1zM402 346h3V361h-3z"/><path fill="#000" d="M405 358h1V385h-1zM404 360h3V383h-3z"/><path fill="#000" d="M407 318h1V386h-1zM406 335h3V385h-3z"/><path fill="#fff" d="M407 336h1V384h-1z"/><path fill="#000" d="M409 334h1V337h-1zM408 334h3V337h-3z"/><path fill="#fff" d="M409 335h1V336h-1z"/><path fill="#000" d="M411 327h1V336h-1zM410 330h3V336h-3z"/><path fill="#fff" d="M411 331h1V335h-1z"/><path fill="#000" d="M413 330h1V348h-1zM412 330h3V339h-3z"/><path fill="#000" d="M415 324h1V340h-1zM414 328h3V340h-3z"/><path fill="#fff" d="M415 329h1V339h-1z"/><path fill="#000" d="M417 327h1V343h-1zM416 327h3V337h-3z"/><path fill="#000" d="M419 321h1V341h-1zM418 324h3V338h-3z"/><path fill="#fff" d="M419 325h1V337h-1z"/><path fill="#000" d="M421 322h1V324h-1zM420 324h3V325h-3z"/><path fill="#000" d="M423 322h1V328h-1zM422 323h3V326h-3z"/><path fill="#000" d="M425 323h1V340h-1zM424 323h3V339h-3z"/><path fill="#000" d="M427 338h1V346h-1zM426 338h3V340h-3z"/><path fill="#000" d="M429 335h1V341h-1zM428 335h3V341h-3z"/><path fill="#fff" d="M429 336h1V340h-1z"/><path fill="#000" d="M431 318h1V337h-1zM430 320h3V335h-3z"/><path fill="#fff" d="M431 321h1V334h-1z"/><path fill="#000" d="M433 319h1V324h-1zM432 319h3V322h-3z"/><path fill="#fff" d="M433 320h1V321h-1z"/><path fill="#000" d="M434 315h1V324h-1zM433 315h3V321h-3z"/><path fill="#fff" d="M434 316h1V320h-1z"/><path fill="#000" d="M436 301h1V317h-1zM435 314h3V317h-3z"/><path fill="#fff" d="M436 315h1V316h-1z"/><path fill="#000" d="M438 309h1V318h-1zM437 312h3V317h-3z"/><path fill="#fff" d="M438 313h1V316h-1z"/><path fill="#000" d="M440 304h1V316h-1zM439 311h3V315h-3z"/><path fill="#fff" d="M440 312h1V314h-1z"/><path fill="#000" d="M442 308h1V330h-1zM441 309h3V317h-3z"/><path fill="#000" d="M444 314h1V324h-1zM443 315h3V320h-3z"/><path fill="#000" d="M446 308h1V322h-1zM445 315h3V322h-3z"/><path fill="#fff" d="M446 316h1V321h-1z"/><path fill="#000" d="M448 315h1V318h-1zM447 315h3V316h-3z"/><path fill="#000" d="M450 309h1V331h-1zM449 312h3V331h-3z"/><path fill="#000" d="M452 328h1V349h-1zM451 329h3V338h-3z"/><path fill="#000" d="M454 330h1V338h-1zM453 335h3V338h-3z"/><path fill="#fff" d="M454 336h1V337h-1z"/><path fill="#000" d="M456 335h1V347h-1zM455 335h3V344h-3z"/><path fill="#000" d="M458 340h1V352h-1zM457 341h3V350h-3z"/><path fill="#000" d="M460 350h1V350h-1zM459 350h3V351h-3z"/><path fill="#000" d="M462 350h1V354h-1zM461 350h3V351h-3z"/><path fill="#000" d="M464 338h1V356h-1zM463 343h3V352h-3z"/><path fill="#fff" d="M464 344h1V351h-1z"/><path fill="#000" d="M466 339h1V344h-1zM465 341h3V344h-3z"/><path fill="#fff" d="M466 342h1V343h-1z"/><path fill="#000" d="M468 331h1V344h-1zM467 332h3V344h-3z"/><path fill="#fff" d="M468 333h1V343h-1z"/><path fill="#000" d="M470 328h1V334h-1zM469 330h3V334h-3z"/><path fill="#fff" d="M470 331h1V333h-1z"/><path fill="#000" d="M472 328h1V335h-1zM471 329h3V334h-3z"/><path fill="#000" d="M474 332h1V341h-1zM473 333h3V334h-3z"/><path fill="#000" d="M476 331h1V337h-1zM475 332h3V335h-3z"/><path fill="#000" d="M478 332h1V336h-1zM477 334h3V336h-3z"/><path fill="#000" d="M480 333h1V345h-1zM479 334h3V345h-3z"/><path fill="#000" d="M482 344h1V346h-1zM481 344h3V346h-3z"/><path fill="#000" d="M483 344h1V347h-1zM482 345h3V347h-3z"/><path fill="#000" d="M485 346h1V351h-1zM484 347h3V349h-3z"/><path fill="#000" d="M487 347h1V350h-1zM486 347h3V350h-3z"/><path fill="#fff" d="M487 348h1V349h-1z"/><path fill="#000" d="M489 334h1V349h-1zM488 342h3V349h-3z"/><path fill="#fff" d="M489 343h1V348h-1z"/><path fill="#000" d="M491 341h1V343h-1zM490 342h3V343h-3z"/><path fill="#000" d="M493 341h1V346h-1zM492 342h3V344h-3z"/><path fill="#000" d="M495 343h1V346h-1zM494 344h3V346h-3z"/><path fill="#000" d="M497 344h1V369h-1zM496 345h3V366h-3z"/><path fill="#000" d="M499 365h1V372h-1zM498 365h3V370h-3z"/><path fill="#000" d="M501 368h1V377h-1zM500 368h3V374h-3z"/><path fill="#000" d="M503 360h1V380h-1zM502 366h3V377h-3z"/><path fill="#fff" d="M503 367h1V376h-1z"/><path fill="#000" d="M505 362h1V378h-1zM504 364h3V377h-3z"/><path fill="#000" d="M507 373h1V389h-1zM506 376h3V383h-3z"/><path fill="#000" d="M509 381h1V386h-1zM508 381h3V385h-3z"/><path fill="#fff" d="M509 382h1V384h-1z"/><path fill="#000" d="M511 375h1V387h-1zM510 377h3V384h-3z"/><path fill="#fff" d="M511 378h1V383h-1z"/><path fill="#000" d="M513 370h1V378h-1zM512 376h3V378h-3z"/><path fill="#000" d="M515 373h1V396h-1zM514 375h3V389h-3z"/><path fill="#000" d="M517 387h1V395h-1zM516 388h3V392h-3z"/><path fill="#fff" d="M517 389h1V391h-1z"/><path fill="#000" d="M519 379h1V393h-1zM518 383h3V391h-3z"/><path fill="#fff" d="M519 384h1V390h-1z"/><path fill="#000" d="M521 380h1V385h-1zM520 382h3V383h-3z"/><path fill="#000" d="M523 381h1V393h-1zM522 381h3V390h-3z"/><path fill="#000" d="M525 385h1V394h-1zM524 388h3V391h-3z"/><path fill="#000" d="M527 385h1V391h-1zM526 388h3V391h-3z"/><path fill="#000" d="M529 391h1V394h-1zM528 391h3V394h-3z"/><path fill="#000" d="M531 390h1V412h-1zM530 393h3V411h-3z"/><path fill="#000" d="M532 410h1V416h-1zM531 411h3V415h-3z"/><path fill="#000" d="M534 409h1V416h-1zM533 413h3V416h-3z"/><path fill="#000" d="M536 413h1V422h-1zM535 413h3V419h-3z"/><path fill="#000" d="M538 414h1V432h-1zM537 417h3V432h-3z"/><path fill="#000" d="M540 429h1V442h-1zM539 430h3V434h-3z"/><path fill="#000" d="M542 415h1V442h-1zM541 417h3V434h-3z"/><path fill="#fff" d="M542 418h1V433h-1z"/><path fill="#000" d="M544 413h1V424h-1zM543 415h3V424h-3z"/><path fill="#000" d="M546 419h1V438h-1zM545 421h3V430h-3z"/><path fill="#000" d="M548 428h1V442h-1zM547 428h3V432h-3z"/><path fill="#000" d="M550 422h1V435h-1zM549 424h3V435h-3z"/><path fill="#fff" d="M550 425h1V434h-1z"/><path fill="#000" d="M552 408h1V430h-1zM551 418h3V427h-3z"/><path fill="#fff" d="M552 419h1V426h-1z"/><path fill="#000" d="M554 412h1V425h-1zM553 416h3V424h-3z"/><path fill="#000" d="M556 413h1V425h-1zM555 420h3V424h-3z"/><path fill="#fff" d="M556 421h1V423h-1z"/><path fill="#000" d="M558 413h1V424h-1zM557 420h3V422h-3z"/><path fill="#000" d="M560 419h1V425h-1zM559 419h3V422h-3z"/><path fill="#000" d="M562 418h1V424h-1zM561 419h3V423h-3z"/><path fill="#000" d="M564 421h1V424h-1zM563 421h3V423h-3z"/><path fill="#000" d="M566 419h1V434h-1zM565 420h3V434h-3z"/><path fill="#000" d="M568 428h1V439h-1zM567 432h3V436h-3z"/><path fill="#000" d="M570 435h1V446h-1zM569 435h3V445h-3z"/><path fill="#000" d="M572 427h1V446h-1zM571 432h3V447h-3z"/><path fill="#fff" d="M572 433h1V446h-1z"/><path fill="#000" d="M574 431h1V436h-1zM573 432h3V433h-3z"/><path fill="#000" d="M576 425h1V436h-1zM575 428h3V435h-3z"/><path fill="#fff" d="M576 429h1V434h-1z"/><path fill="#000" d="M578 424h1V432h-1zM577 426h3V430h-3z"/><path fill="#fff" d="M578 427h1V429h-1z"/><path fill="#000" d="M580 425h1V428h-1zM579 425h3V427h-3z"/><path fill="#000" d="M581 426h1V431h-1zM580 427h3V430h-3z"/><path fill="#000" d="M583 427h1V434h-1zM582 427h3V430h-3z"/><path fill="#000" d="M585 426h1V435h-1zM584 429h3V432h-3z"/><path fill="#fff" d="M585 430h1V431h-1z"/><path fill="#000" d="M587 419h1V434h-1zM586 420h3V431h-3z"/><path fill="#fff" d="M587 421h1V430h-1z"/><path fill="#000" d="M589 418h1V423h-1zM588 419h3V422h-3z"/><path fill="#fff" d="M589 420h1V421h-1z"/><path fill="#000" d="M591 416h1V421h-1zM590 418h3V421h-3z"/><path fill="#fff" d="M591 419h1V420h-1z"/><path fill="#000" d="M593 413h1V420h-1zM592 413h3V420h-3z"/><path fill="#fff" d="M593 414h1V419h-1z"/><path fill="#000" d="M595 409h1V414h-1zM594 410h3V413h-3z"/><path fill="#fff" d="M595 411h1V412h-1z"/><path fill="#000" d="M597 409h1V416h-1zM596 410h3V415h-3z"/><path fill="#000" d="M599 413h1V418h-1zM598 415h3V417h-3z"/><path fill="#000" d="M601 415h1V418h-1zM600 416h3V418h-3z"/><path fill="#000" d="M603 417h1V431h-1zM602 417h3V429h-3z"/><path fill="#000" d="M605 429h1V440h-1zM604 429h3V437h-3z"/><path fill="#000" d="M607 429h1V440h-1zM606 432h3V439h-3z"/><path fill="#fff" d="M607 433h1V438h-1z"/><path fill="#000" d="M609 431h1V435h-1zM608 431h3V433h-3z"/><path fill="#000" d="M611 428h1V441h-1zM610 430h3V434h-3z"/><path fill="#000" d="M613 433h1V438h-1zM612 433h3V434h-3z"/><path fill="#000" d="M615 432h1V435h-1zM614 432h3V434h-3z"/><path fill="#000" d="M617 427h1V436h-1zM616 430h3V435h-3z"/><path fill="#000" d="M619 434h1V435h-1zM618 434h3V435h-3z"/><path fill="#000" d="M621 429h1V439h-1zM620 433h3V436h-3z"/><path fill="#fff" d="M621 434h1V435h-1z"/><path fill="#000" d="M623 429h1V436h-1zM622 432h3V435h-3z"/><path fill="#fff" d="M623 433h1V434h-1z"/><path fill="#000" d="M625 428h1V438h-1zM624 431h3V438h-3z"/><path fill="#000" d="M627 435h1V442h-1zM626 436h3V441h-3z"/><path fill="#000" d="M629 440h1V442h-1zM628 440h3V442h-3z"/><path fill="#000" d="M630 438h1V442h-1zM629 439h3V442h-3z"/><path fill="#fff" d="M630 440h1V441h-1z"/><path fill="#000" d="M632 439h1V441h-1zM631 439h3V441h-3z"/><path fill="#000" d="M634 432h1V445h-1zM633 432h3V442h-3z"/><path fill="#fff" d="M634 433h1V441h-1z"/><path fill="#000" d="M636 431h1V433h-1zM635 432h3V433h-3z"/><path fill="#000" d="M638 427h1V433h-1zM637 428h3V432h-3z"/><path fill="#fff" d="M638 429h1V431h-1z"/><path fill="#000" d="M640 427h1V434h-1zM639 427h3V430h-3z"/><path fill="#fff" d="M640 428h1V429h-1z"/><path fill="#000" d="M642 417h1V429h-1zM641 426h3V428h-3z"/><path fill="#000" d="M644 425h1V430h-1zM643 425h3V429h-3z"/><path fill="#000" d="M646 427h1V432h-1zM645 427h3V429h-3z"/><path fill="#000" d="M648 418h1V428h-1zM647 420h3V428h-3z"/><path fill="#fff" d="M648 421h1V427h-1z"/><path fill="#000" d="M650 419h1V422h-1zM649 420h3V422h-3z"/><path fill="#000" d="M652 418h1V422h-1zM651 419h3V422h-3z"/><path fill="#fff" d="M652 420h1V421h-1z"/><path fill="#000" d="M654 417h1V421h-1zM653 418h3V421h-3z"/><path fill="#000" d="M656 419h1V426h-1zM655 420h3V424h-3z"/><path fill="#fff" d="M656 421h1V423h-1z"/><path fill="#000" d="M658 413h1V425h-1zM657 413h3V422h-3z"/><path fill="#fff" d="M658 414h1V421h-1z"/><path fill="#000" d="M660 409h1V416h-1zM659 409h3V413h-3z"/><path fill="#fff" d="M660 410h1V412h-1z"/><path fill="#000" d="M662 401h1V423h-1zM661 407h3V422h-3z"/><path fill="#000" d="M664 420h1V428h-1zM663 420h3V423h-3z"/><path fill="#000" d="M666 421h1V427h-1zM665 422h3V426h-3z"/><path fill="#fff" d="M666 423h1V425h-1z"/><path fill="#000" d="M668 420h1V422h-1zM667 422h3V423h-3z"/><path fill="#000" d="M670 420h1V424h-1zM669 422h3V423h-3z"/><path fill="#000" d="M672 420h1V424h-1zM671 421h3V422h-3z"/><path fill="#000" d="M674 417h1V426h-1zM673 420h3V423h-3z"/><path fill="#000" d="M676 415h1V427h-1zM675 416h3V426h-3z"/><path fill="#fff" d="M676 417h1V425h-1z"/><path fill="#000" d="M678 414h1V420h-1zM677 414h3V419h-3z"/><path fill="#fff" d="M678 415h1V418h-1z"/><path fill="#000" d="M679 409h1V419h-1zM678 411h3V416h-3z"/><path fill="#fff" d="M679 412h1V415h-1z"/><path fill="#000" d="M681 407h1V413h-1zM680 410h3V413h-3z"/><path fill="#fff" d="M681 411h1V412h-1z"/><path fill="#000" d="M683 406h1V411h-1zM682 409h3V411h-3z"/><path fill="#000" d="M685 411h1V414h-1zM684 411h3V412h-3z"/><path fill="#000" d="M687 408h1V414h-1zM686 410h3V414h-3z"/><path fill="#fff" d="M687 411h1V413h-1z"/><path fill="#000" d="M689 405h1V413h-1zM688 406h3V412h-3z"/><path fill="#fff" d="M689 407h1V411h-1z"/><path fill="#000" d="M691 401h1V410h-1zM690 401h3V408h-3z"/><path fill="#fff" d="M691 402h1V407h-1z"/><path fill="#000" d="M693 395h1V402h-1zM692 398h3V402h-3z"/><path fill="#fff" d="M693 399h1V401h-1z"/><path fill="#000" d="M695 381h1V411h-1zM694 381h3V398h-3z"/><path fill="#fff" d="M695 382h1V397h-1z"/><path fill="#000" d="M697 370h1V384h-1zM696 380h3V382h-3z"/><path fill="#000" d="M699 379h1V381h-1zM698 380h3V381h-3z"/><path fill="#000" d="M701 379h1V387h-1zM700 380h3V382h-3z"/><path fill="#000" d="M703 362h1V382h-1zM702 362h3V382h-3z"/><path fill="#fff" d="M703 363h1V381h-1z"/><path fill="#000" d="M705 349h1V366h-1zM704 350h3V365h-3z"/><path fill="#fff" d="M705 351h1V364h-1z"/><path fill="#000" d="M707 345h1V370h-1zM706 348h3V365h-3z"/><path fill="#000" d="M709 346h1V368h-1zM708 346h3V367h-3z"/><path fill="#fff" d="M709 347h1V366h-1z"/><path fill="#000" d="M711 340h1V348h-1zM710 344h3V347h-3z"/><path fill="#fff" d="M711 345h1V346h-1z"/><path fill="#000" d="M713 343h1V350h-1zM712 344h3V349h-3z"/><path fill="#000" d="M715 346h1V366h-1zM714 347h3V360h-3z"/><path fill="#000" d="M717 347h1V364h-1zM716 350h3V362h-3z"/><path fill="#fff" d="M717 351h1V361h-1z"/><path fill="#000" d="M719 345h1V352h-1zM718 348h3V352h-3z"/><path fill="#000" d="M721 348h1V352h-1zM720 350h3V352h-3z"/><path fill="#000" d="M723 346h1V366h-1zM722 348h3V361h-3z"/><path fill="#000" d="M725 360h1V365h-1zM724 360h3V364h-3z"/><path fill="#fff" d="M725 361h1V363h-1z"/><path fill="#000" d="M727 355h1V362h-1zM726 355h3V362h-3z"/><path fill="#fff" d="M727 356h1V361h-1z"/><path fill="#000" d="M728 342h1V356h-1zM727 350h3V355h-3z"/><path fill="#fff" d="M728 351h1V354h-1z"/><path fill="#000" d="M730 348h1V355h-1zM729 350h3V353h-3z"/><path fill="#fff" d="M730 351h1V352h-1z"/><path fill="#000" d="M732 348h1V350h-1zM731 348h3V350h-3z"/></g>
</g>
<text x="6.3" y="633" font-size="12.5" fill="#000" textLength="123.8" lengthAdjust="spacingAndGlyphs" stroke="#000" stroke-width="0.18">Создано при помощи</text>
<path d="M143 636.8 C139.6 636.8 139 632.6 140.3 630.3 C141.2 628.6 143 627.5 145 627.3 C145.5 624.6 148 622.7 150.9 622.7 C152.8 622.7 154.2 623.5 155.2 624.4 C157.2 624.7 159 625.7 160.1 627 C162.6 628.4 164 631 163.8 633.6 C163.6 635.5 162.6 636.8 161.3 636.8 Z" fill="#58c3e8"/><path d="M139.6 635.5 L148.7 627.6 L154.3 635.1 L161.3 627.2" fill="none" stroke="#f1f3f6" stroke-width="1.7"/>
<text x="170.2" y="632.8" font-size="13" fill="#3ba7de" textLength="70.2" lengthAdjust="spacingAndGlyphs">TradingView</text>
</svg>
</body></html>
